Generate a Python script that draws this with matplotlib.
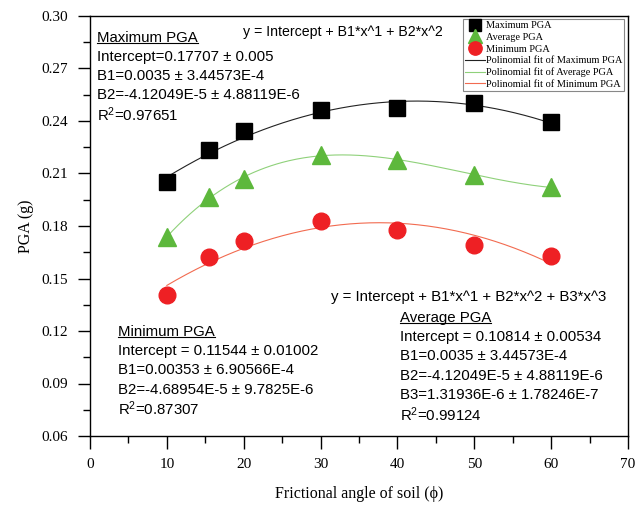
import matplotlib
matplotlib.use("Agg")
import matplotlib.pyplot as plt
import numpy as np
from matplotlib.ticker import MultipleLocator

plt.rcParams['mathtext.default'] = 'regular'

# data
phi = [10, 15.5, 20, 30, 40, 50, 60]
pga_max = [0.205, 0.2233, 0.234, 0.246, 0.2475, 0.2502, 0.2394]
pga_avg = [0.1737, 0.1967, 0.2067, 0.2208, 0.2179, 0.2092, 0.2021]
pga_min = [0.1404, 0.1621, 0.1713, 0.1829, 0.1779, 0.1694, 0.1631]

# fit coefficients printed on the chart (intercept, B1, B2)
coef_max = [0.17707, 0.0035, -4.12049e-5]
coef_min = [0.11544, 0.00353, -4.68954e-5]

txt_max = ["Intercept=0.17707 \u00b1 0.005",
           "B1=0.0035 \u00b1 3.44573E-4",
           "B2=-4.12049E-5 \u00b1 4.88119E-6",
           "R$^2$=0.97651"]
txt_min = ["Intercept = 0.11544 \u00b1 0.01002",
           "B1=0.00353 \u00b1 6.90566E-4",
           "B2=-4.68954E-5 \u00b1 9.7825E-6",
           "R$^2$=0.87307"]
txt_avg = ["Intercept = 0.10814 \u00b1 0.00534",
           "B1=0.0035 \u00b1 3.44573E-4",
           "B2=-4.12049E-5 \u00b1 4.88119E-6",
           "B3=1.31936E-6 \u00b1 1.78246E-7",
           "R$^2$=0.99124"]

c_sq = 'black'
c_tri = '#5db83c'
c_cir = '#ee2024'

fig = plt.figure(figsize=(6.4, 5.07), dpi=100)
ax = fig.add_axes([90/640, 1-436/507, 538/640, 420/507])

xx = np.linspace(10, 60, 200)
y_max = coef_max[0] + coef_max[1]*xx + coef_max[2]*xx**2
y_min = coef_min[0] + coef_min[1]*xx + coef_min[2]*xx**2
y_avg = np.polyval(np.polyfit(phi, pga_avg, 3), xx)

ax.plot(phi, pga_max, 's', color=c_sq, ms=11.5, ls='none', label='Maximum PGA', zorder=3)
ax.plot(phi, pga_avg, '^', color=c_tri, ms=13, ls='none', label='Average PGA', zorder=3)
ax.plot(phi, pga_min, 'o', color=c_cir, ms=12, ls='none', label='Minimum PGA', zorder=3)
ax.plot(xx, y_max, color='#222222', lw=0.8, label='Polinomial fit of Maximum PGA', zorder=2)
ax.plot(xx, y_avg, color='#8fd17a', lw=0.8, label='Polinomial fit of Average PGA', zorder=2)
ax.plot(xx, y_min, color='#f26b50', lw=0.8, label='Polinomial fit of Minimum PGA', zorder=2)

ax.set_xlim(0, 70)
ax.set_ylim(0.06, 0.30)
ax.xaxis.set_major_locator(MultipleLocator(10))
ax.xaxis.set_minor_locator(MultipleLocator(5))
ax.yaxis.set_major_locator(MultipleLocator(0.03))
ax.yaxis.set_minor_locator(MultipleLocator(0.015))
ax.set_yticklabels(['%.2f' % v for v in ax.get_yticks()])
ax.tick_params(which='major', direction='out', length=9, width=1, pad=7,
               labelsize=11, top=False, right=False)
ax.tick_params(which='minor', direction='out', length=5, width=1,
               top=False, right=False)
for lab in ax.get_xticklabels() + ax.get_yticklabels():
    lab.set_family('Liberation Serif')
for s in ax.spines.values():
    s.set_linewidth(1)

ax.set_xlabel('Frictional angle of soil (\u03d5)', family='Liberation Serif',
              fontsize=11.5, labelpad=11)
ax.set_ylabel('PGA (g)', family='Liberation Serif', fontsize=11.5, labelpad=5)

leg = ax.legend(loc='upper right', bbox_to_anchor=(0.993, 0.993), borderaxespad=0,
                prop={'family': 'Liberation Serif', 'size': 7.4}, fancybox=False,
                framealpha=1, edgecolor='#888888', handlelength=1.95,
                handletextpad=0.05, labelspacing=0.24, markerscale=0.8,
                borderpad=0.2)
leg.get_frame().set_linewidth(0.8)


def ay(py):
    return (436 - py) / 420


def ax_x(px):
    return (px - 90) / 538


tfont = dict(family='Liberation Sans', fontsize=10.8, va='center',
             transform=ax.transAxes)

heads = []
heads.append(ax.text(ax_x(97), ay(38), 'Maximum PGA', **tfont))
for i, t in enumerate(txt_max):
    ax.text(ax_x(97), ay(57 + 19.2*i), t, **tfont)

heads.append(ax.text(ax_x(118), ay(332), 'Minimum PGA', **tfont))
for i, t in enumerate(txt_min):
    ax.text(ax_x(118), ay(351 + 19.3*i), t, **tfont)

heads.append(ax.text(ax_x(400), ay(318), 'Average PGA', **tfont))
for i, t in enumerate(txt_avg):
    ax.text(ax_x(400), ay(337 + 19.4*i), t, **tfont)

ax.text(ax_x(243), ay(32), 'y = Intercept + B1*x^1 + B2*x^2',
        **dict(tfont, fontsize=10.2))
ax.text(ax_x(331), ay(297), 'y = Intercept + B1*x^1 + B2*x^2 + B3*x^3', **tfont)

# underline the block headings
fig.canvas.draw()
r = fig.canvas.get_renderer()
inv = ax.transAxes.inverted()
for t in heads:
    bb = t.get_window_extent(r)
    (x0, y0), (x1, y1) = inv.transform([[bb.x0, bb.y0 + 2], [bb.x1, bb.y1]])
    ax.plot([x0, x1], [y0, y0], transform=ax.transAxes, color='black',
            lw=0.8, clip_on=False)

fig.savefig('out.png', dpi=100)
